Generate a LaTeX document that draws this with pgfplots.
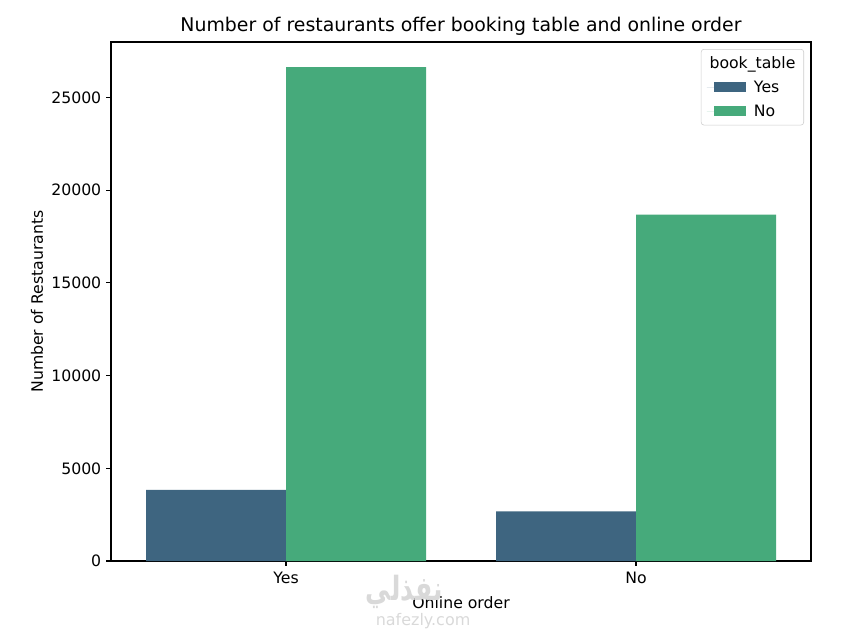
\documentclass[border=0pt]{standalone}
\usepackage{pgfplots}
\pgfplotsset{compat=1.18}
\usepackage{fontspec}
\setmainfont{DejaVu Sans}
\newfontfamily\arabicfont[Script=Arabic]{DejaVu Sans}
\TeXXeTstate=1
\definecolor{cyes}{HTML}{3E6580}
\definecolor{cno}{HTML}{46AA7B}
\begin{document}
\begin{tikzpicture}[x=1pt,y=1pt]
\useasboundingbox (0,0) rectangle (609.84,453.6);
\begin{axis}[
  at={(79.92pt,49.68pt)}, anchor=south west,
  scale only axis, width=504pt, height=373.68pt,
  xmin=-0.5, xmax=1.5, ymin=0, ymax=27990,
  ybar=0pt, bar width=0.4,
  xtick={0,1}, xticklabels={Yes,No},
  ytick={0,5000,10000,15000,20000,25000},
  scaled y ticks=false,
  /pgf/number format/assume math mode=true,
  yticklabel style={/pgf/number format/.cd, fixed, set thousands separator={}},
  tick label style={font=\fontsize{11.3}{13}\selectfont},
  label style={font=\fontsize{11.3}{13}\selectfont},
  xticklabel style={yshift=-1pt},
  xlabel style={yshift=-2pt},
  ylabel style={yshift=-1pt},
  tick align=outside, major tick length=3.5pt,
  xtick pos=bottom, ytick pos=left,
  axis line style={line width=0.8pt},
  every tick/.style={black, line width=0.8pt},
  xlabel={Online order}, ylabel={Number of Restaurants},
  title={Number of restaurants offer booking table and online order},
  title style={font=\fontsize{13.6}{16}\selectfont, yshift=-5pt},
  legend style={at={(0.99,0.9865)}, anchor=north east, draw=black!20, rounded corners=2pt,
    fill=white, font=\fontsize{11.3}{13}\selectfont, row sep=3.5pt, column sep=4pt,
    inner xsep=4pt, inner ysep=3pt},
  legend cell align=left,
  legend image code/.code={\path (0pt,0pt) -- (28pt,0pt);
    \fill[#1, sharp corners] (5pt,-3.6pt) rectangle (28pt,3.6pt);},
]
\addlegendimage{empty legend}
\addlegendentry{\hspace*{-32pt}book\_table}
\addplot[fill=cyes, draw=none] coordinates {(0,3830) (1,2670)};
\addlegendentry{Yes}
\addplot[fill=cno, draw=none] coordinates {(0,26640) (1,18680)};
\addlegendentry{No}
\end{axis}
\node[text=black!15, font=\fontsize{24}{28}\selectfont\bfseries\arabicfont, xscale=0.75] at (291,27.5) {\beginR نفذلي\endR};
\node[text=black!15, font=\fontsize{11.5}{13}\selectfont] at (304.6,6.5) {nafezly.com};
\end{tikzpicture}
\end{document}
